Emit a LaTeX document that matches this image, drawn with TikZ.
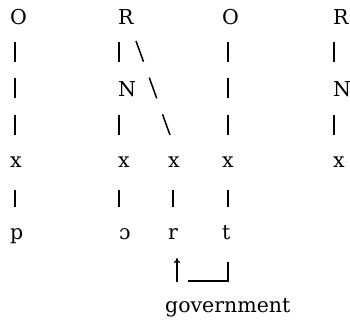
\documentclass[tikz,border=0pt]{standalone}
\usepackage{fontspec}
\setmainfont{DejaVu Serif}
\usetikzlibrary{arrows.meta}
\begin{document}
\begin{tikzpicture}[x=1pt, y=-1pt, every node/.style={font=\fontsize{20.5}{24}\selectfont},
  seg/.style={anchor=base west,inner sep=0pt},
  bar/.style={line width=1.5pt},
  gapbar/.style={bar,dash pattern=on 20pt off 16.5pt}]
\useasboundingbox (0,0) rectangle (350,320);
% top tier
\node[seg] (O1) at (10,25) {O};
\node[seg] (R2) at (118,25) {R};
\node[seg] (O4) at (222,25) {O};
\node[seg] (R5) at (333,25) {R};
\node[seg] (N2) at (118,97) {N};
\node[seg] (N5) at (333,97) {N};
% skeleton
\node[seg] (x1) at (10,168) {x};
\node[seg] (x2) at (118,168) {x};
\node[seg] (x3) at (168,168) {x};
\node[seg] (x4) at (222,168) {x};
\node[seg] (x5) at (333,168) {x};
% segments
\node[seg] (p1) at (10,239) {p};
\node[seg] (o2) at (119,239) {ɔ};
\node[seg] (r3) at (168,239) {r};
\node[seg] (t4) at (222,239) {t};
\node[seg] (gov) at (165,312) {government};
% association lines
\draw[gapbar] ([shift={(5,17)}]O1.base west) -- ([shift={(5,-33)}]x1.base west);
\draw[bar] ([shift={(5,22)}]x1.base west) -- ([shift={(5,-32)}]p1.base west);
\draw[bar] ([shift={(1,17)}]R2.base west) -- ([shift={(1,-35)}]N2.base west);
\draw[bar] ([shift={(1,18)}]N2.base west) -- ([shift={(1,-33)}]x2.base west);
\draw[bar] ([shift={(1,22)}]x2.base west) -- ([shift={(0,-32)}]o2.base west);
\draw[bar,dash pattern=on 22pt off 17pt] ([shift={(18,16)}]R2.base west) -- ([shift={(2,-33)}]x3.base west);
\draw[bar] ([shift={(5,22)}]x3.base west) -- ([shift={(5,-32)}]r3.base west);
\draw[gapbar] ([shift={(6,17)}]O4.base west) -- ([shift={(6,-33)}]x4.base west);
\draw[bar] ([shift={(6,22)}]x4.base west) -- ([shift={(6,-32)}]t4.base west);
\draw[bar] ([shift={(1,17)}]R5.base west) -- ([shift={(1,-35)}]N5.base west);
\draw[bar] ([shift={(1,18)}]N5.base west) -- ([shift={(1,-33)}]x5.base west);
% government
\draw[line width=1.1pt] ([shift={(6,23)}]t4.base west) |- ([shift={(20,42)}]r3.base west);
\draw[line width=1.1pt,-{To[length=5pt,width=6pt]}] ([shift={(9,43)}]r3.base west) -- ([shift={(9,19)}]r3.base west);
\end{tikzpicture}
\end{document}
